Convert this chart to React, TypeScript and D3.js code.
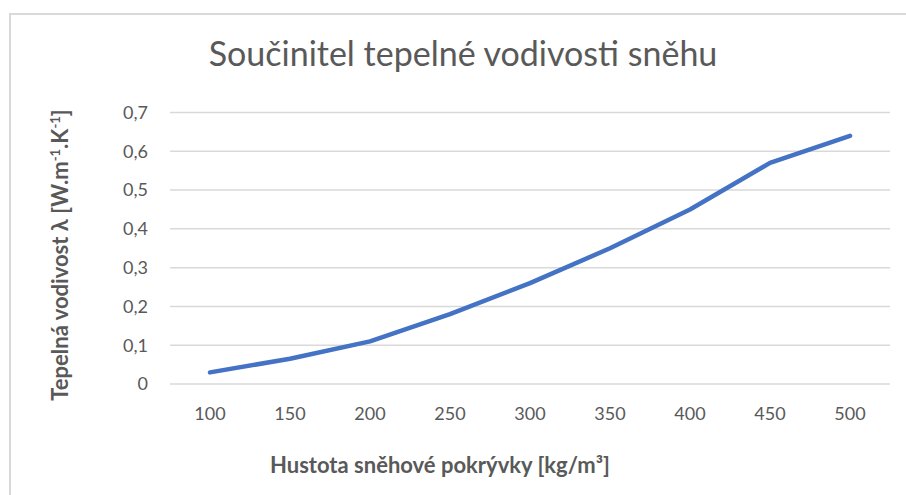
import React from 'react';
import * as d3 from 'd3';

const densities = ['100', '150', '200', '250', '300', '350', '400', '450', '500'];
const conductivity = [0.03, 0.065, 0.11, 0.18, 0.26, 0.35, 0.45, 0.57, 0.64];
const yTicks = [0, 0.1, 0.2, 0.3, 0.4, 0.5, 0.6, 0.7];

const width = 906;
const height = 495;
const font = 'Lato, "Open Sans", sans-serif';
const grey = '#595959';

const App = () => {
    const x = d3.scalePoint<string>().domain(densities).range([170, 890]).padding(0.5);
    const y = d3.scaleLinear().domain([0, 0.7]).range([384, 112.5]);
    const line = d3.line<number>().x((d, i) => x(densities[i]) as number).y(d => y(d));
    const fmt = (v: number) => (v === 0 ? '0' : d3.format('.1f')(v).replace('.', ','));

    return (
        <svg width={width} height={height} style={{ position: 'absolute', left: 0, top: 0 }} fontFamily={font}>
            <rect x={0} y={0} width={width} height={height} fill="#fff" />
            <rect x={10} y={14} width={width + 20} height={height + 20} fill="none" stroke="#d9d9d9" strokeWidth={2} />

            <text x={463} y={66} textAnchor="middle" fontSize={34} fill={grey}>
                Součinitel tepelné vodivosti sněhu
            </text>

            {yTicks.map(t => (
                <g key={t}>
                    <line x1={170} x2={890} y1={y(t)} y2={y(t)} stroke="#d9d9d9" strokeWidth={1.5} />
                    <text x={148} y={y(t)} dy="0.35em" textAnchor="end" fontSize={18} fill={grey}>
                        {fmt(t)}
                    </text>
                </g>
            ))}

            {densities.map(d => (
                <text key={d} x={x(d)} y={420} textAnchor="middle" fontSize={18} fill={grey}>
                    {d}
                </text>
            ))}

            <path d={line(conductivity) || ''} fill="none" stroke="#4472C4" strokeWidth={4.5} strokeLinecap="round" strokeLinejoin="round" />

            <text x={440} y={473} textAnchor="middle" fontSize={22} fontWeight="bold" fill={grey}>
                Hustota sněhové pokrývky [kg/m³]
            </text>

            <text transform="translate(68,255) rotate(-90)" textAnchor="middle" fontSize={22} fontWeight="bold" fill={grey}>
                Tepelná vodivost λ [W.m
                <tspan dy={-8} fontSize={13}>-1</tspan>
                <tspan dy={8}>.K</tspan>
                <tspan dy={-8} fontSize={13}>-1</tspan>
                <tspan dy={8}>]</tspan>
            </text>
        </svg>
    );
};

export default App;
